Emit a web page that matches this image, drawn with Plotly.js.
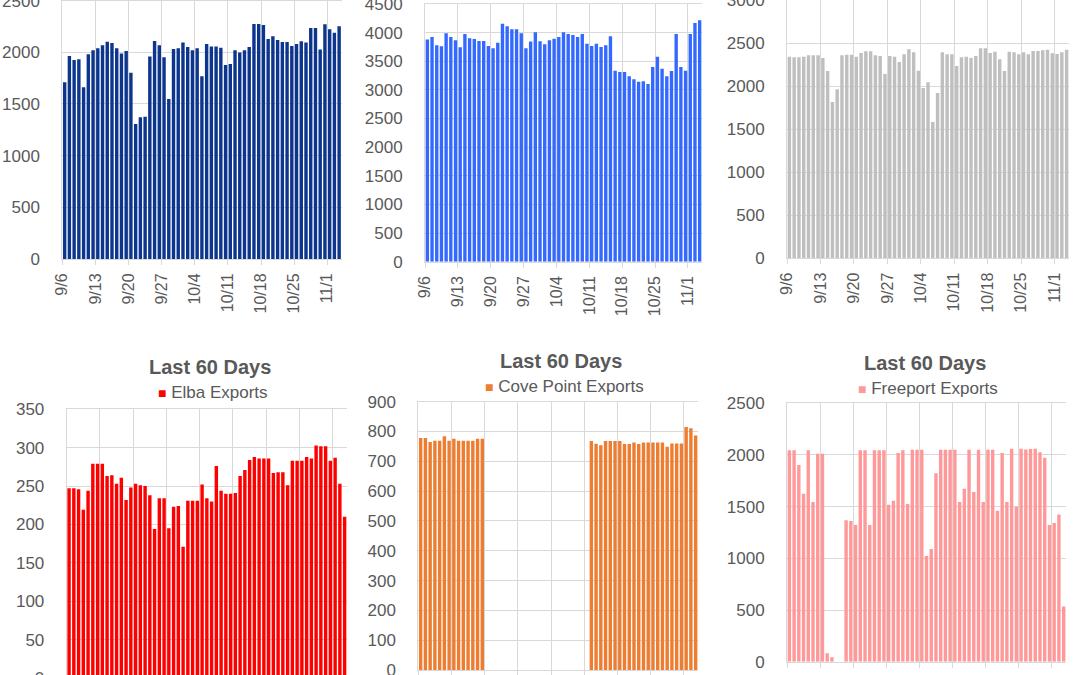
<!DOCTYPE html>
<html>
<head>
<meta charset="utf-8">
<script src="https://cdn.plot.ly/plotly-3.0.1.min.js"></script>
<style>
html,body{margin:0;padding:0;background:#fff;overflow:hidden;}
#chart{width:1080px;height:720px;}
</style>
</head>
<body>
<div id="chart"></div>
<script>
// ---- data ----
const dates = ['9/6','9/7','9/8','9/9','9/10','9/11','9/12','9/13','9/14','9/15','9/16','9/17','9/18','9/19','9/20','9/21','9/22','9/23','9/24','9/25','9/26','9/27','9/28','9/29','9/30',
  '10/1','10/2','10/3','10/4','10/5','10/6','10/7','10/8','10/9','10/10','10/11','10/12','10/13','10/14','10/15','10/16','10/17','10/18','10/19','10/20','10/21','10/22','10/23','10/24','10/25','10/26','10/27','10/28','10/29','10/30','10/31',
  '11/1','11/2','11/3'];
const tickDates = ['9/6','9/13','9/20','9/27','10/4','10/11','10/18','10/25','11/1'];

const panel1Values = [1710,1965,1926,1932,1661,1981,2019,2039,2068,2103,
  2090,2039,1987,2013,1803,1306,1371,1377,1958,2110,
  2068,1952,1548,2032,2039,2094,2052,2019,2039,1768,
  2081,2055,2055,2045,1877,1887,2019,1997,2019,2052,
  2274,2274,2265,2129,2155,2119,2100,2100,2061,2081,
  2106,2094,2235,2235,2026,2271,2223,2190,2252];
const panel2Values = [3878,3924,3779,3761,3988,3924,3866,3744,3977,3901,
  3889,3854,3854,3767,3726,3825,4157,4111,4058,4058,
  3988,3726,3843,4006,3849,3796,3866,3895,3924,4006,
  3977,3959,3924,3977,3808,3767,3808,3750,3779,3936,
  3336,3313,3313,3237,3185,3144,3150,3103,3400,3581,
  3371,3237,3330,3977,3400,3336,3977,4169,4215];
const panel3Values = [2345,2337,2337,2345,2360,2360,2360,2329,2178,1818,
  1965,2360,2368,2368,2345,2388,2407,2407,2360,2353,
  2143,2353,2345,2283,2372,2430,2395,2182,1981,2047,
  1585,1922,2395,2372,2372,2236,2337,2345,2329,2353,
  2442,2442,2388,2403,2314,2178,2403,2395,2372,2395,
  2372,2411,2411,2419,2426,2384,2376,2395,2426];
const elbaValues = [247,247,246,219,244,279,279,279,263,264,
  253,261,232,248,253,251,250,238,194,234,
  234,195,223,224,171,231,231,231,252,234,
  230,276,244,240,240,241,263,271,284,288,
  286,286,286,267,268,268,251,283,283,283,
  288,286,303,302,302,283,287,253,210];
const covePointValues = [778,778,765,769,769,784,769,776,769,769,769,769,776,776,
  0,0,0,0,0,0,0,0,0,0,0,0,0,0,0,0,0,0,0,0,0,0,
  768,759,754,768,768,768,768,758,758,763,758,763,763,763,763,763,749,760,760,760,815,811,787];
const freeportValues = [2045,2045,1903,1626,2045,1545,2013,2013,81,42,
  0,0,1368,1361,1323,2045,2045,1323,2045,2045,
  2045,1519,1558,2019,2045,1526,2050,2050,2050,1023,
  1090,1823,2050,2050,2050,2050,1545,1674,2050,1642,
  2050,1545,2050,2050,1461,2019,1545,2060,1500,2060,
  2052,2058,2060,2026,1974,1323,1342,1423,535];

const titleText = 'Last 60 Days';
const legendNames = ['Elba Exports','Cove Point Exports','Freeport Exports'];

// ---- layout helpers ----
const W = 1080, H = 720;
const dx = p => p / W;
const dy = p => 1 - p / H;
const xIdx = dates.map((d, i) => i);
const tickvals = tickDates.map(d => dates.indexOf(d) - 0.5);

const panels = [
  {vals: panel1Values, color:'#0C358E', box:[62.3,341.5,0.6,259], ymax:2500, dtick:500, name:'Series 1'},
  {vals: panel2Values, color:'#3369FF', box:[425,702,4,261.7], ymax:4500, dtick:500, name:'Series 2'},
  {vals: panel3Values, color:'#BFBFBF', box:[787,1069,0.3,258.3], ymax:3000, dtick:500, name:'Series 3'},
  {vals: elbaValues, color:'#FF0000', box:[66.7,347,409.3,678], ymax:350, dtick:50, name:legendNames[0]},
  {vals: covePointValues, color:'#ED7D31', box:[418.3,698,401.7,670], ymax:900, dtick:100, name:legendNames[1]},
  {vals: freeportValues, color:'#FF9999', box:[787,1066,403.3,661.7], ymax:2500, dtick:500, name:legendNames[2]}
];

const font = 'Liberation Sans, Arial, sans-serif';
const grey = '#595959';
const gridc = '#D9D9D9';
const traces = [];
const layout = {
  width: W, height: H,
  margin: {l:0, r:0, t:0, b:0},
  paper_bgcolor:'#fff', plot_bgcolor:'#fff',
  showlegend:false, bargap:0.28,
  font:{family:font, color:grey},
  annotations: []
};

panels.forEach((p, i) => {
  const n = i === 0 ? '' : String(i + 1);
  traces.push({
    type:'bar', x:xIdx, y:p.vals, name:p.name,
    text: dates, hovertemplate:'%{text}: %{y}<extra>'+p.name+'</extra>', textposition:'none',
    marker:{color:p.color},
    xaxis:'x'+n, yaxis:'y'+n
  });
  const [l, r, t, b] = p.box;
  layout['xaxis'+n] = {
    domain:[dx(l), dx(r)], anchor:'y'+n,
    range:[-0.5, dates.length - 0.5],
    tickmode:'array', tickvals:tickvals, ticktext:tickDates, tickangle:-90,
    showgrid:true, gridcolor:gridc, gridwidth:1,
    ticks:'outside', ticklen:5, tickcolor:gridc,
    showline:true, mirror:true, linecolor:gridc, linewidth:1,
    zeroline:false, tickfont:{size:16, color:grey, family:font},
    ticklabelstandoff:2, ticklabeloverflow:'allow', fixedrange:true
  };
  layout['yaxis'+n] = {
    domain:[dy(b), dy(t)], anchor:'x'+n,
    range:[0, p.ymax], dtick:p.dtick, tick0:0,
    showgrid:true, gridcolor:gridc, gridwidth:1,
    zeroline:false, showline:true, linecolor:gridc, linewidth:1, ticks:'',
    tickfont:{size:17, color:grey, family:font},
    ticklabelstandoff:18, ticklabeloverflow:'allow', fixedrange:true
  };
});

// titles and legends for bottom row
const bottomMeta = [
  {tx:209.7, ty:367, lx:212.8, ly:393, color:'#FF0000', name:legendNames[0]},
  {tx:561, ty:361, lx:564.3, ly:386, color:'#ED7D31', name:legendNames[1]},
  {tx:924.7, ty:362.5, lx:928.3, ly:388, color:'#FF9999', name:legendNames[2]}
];
bottomMeta.forEach(m => {
  layout.annotations.push({
    xref:'paper', yref:'paper', x:dx(m.tx), y:dy(m.ty), xanchor:'center', yanchor:'middle',
    text:'<b>'+titleText+'</b>', showarrow:false,
    font:{size:20, color:grey, family:font}
  });
  layout.annotations.push({
    xref:'paper', yref:'paper', x:dx(m.lx), y:dy(m.ly), xanchor:'center', yanchor:'middle',
    text:'<span style="color:'+m.color+';font-size:14px">■</span> '+m.name, showarrow:false,
    font:{size:17, color:grey, family:font}
  });
});

Plotly.newPlot('chart', traces, layout, {staticPlot:true, displayModeBar:false});
</script>
</body>
</html>
